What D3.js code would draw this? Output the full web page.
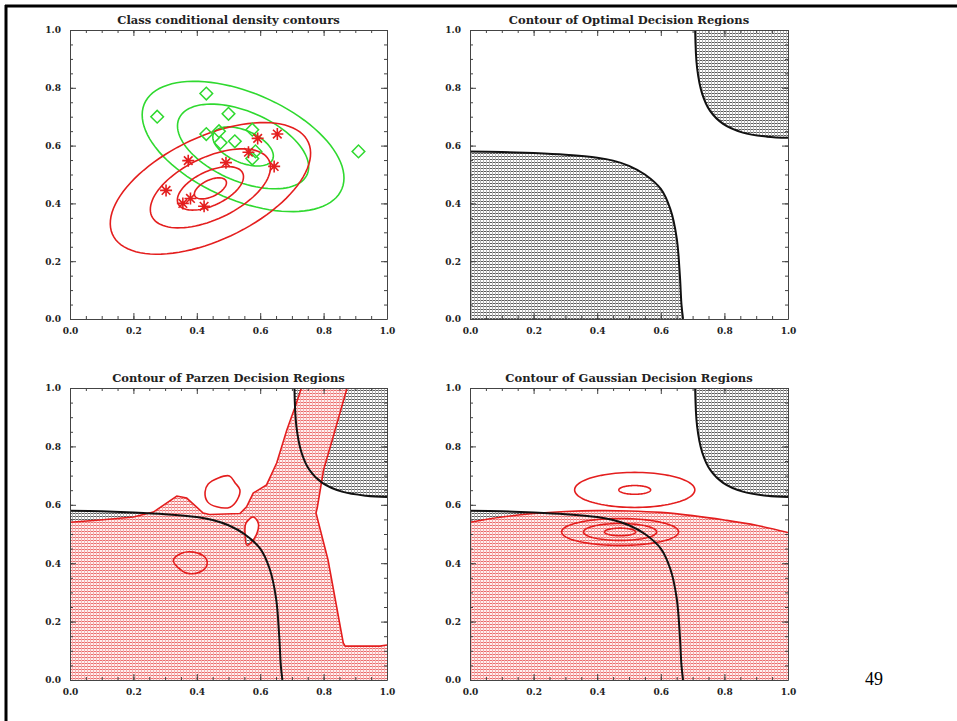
<!DOCTYPE html>
<html>
<head>
<meta charset="utf-8">
<script src="https://cdn.jsdelivr.net/npm/d3@7"></script>
<style>
  body { margin: 0; background: #fff; }
  svg { display: block; }
  .title { font-family: "DejaVu Serif", serif; font-weight: bold; font-size: 11.5px; fill: #222; }
  .tick text { font-family: "DejaVu Serif", serif; font-weight: bold; font-size: 9px; fill: #222; }
  .axis path, .axis line { stroke: #444; }
</style>
</head>
<body>
<svg id="chart" width="957" height="721"></svg>
<script>
// ---- data ----
const titles = [
  'Class conditional density contours',
  'Contour of Optimal Decision Regions',
  'Contour of Parzen Decision Regions',
  'Contour of Gaussian Decision Regions'
];
const majorTicks = [0, 0.2, 0.4, 0.6, 0.8, 1.0];
const minorTicks = d3.range(0, 21).map(i => i / 20);

// class 2 samples (green diamonds) and class 1 samples (red asterisks)
const greenPoints = [
  [0.275, 0.70], [0.43, 0.78], [0.50, 0.71], [0.43, 0.64], [0.47, 0.65],
  [0.475, 0.61], [0.52, 0.615], [0.575, 0.655], [0.585, 0.58], [0.575, 0.555],
  [0.91, 0.58]
];
const redPoints = [
  [0.303, 0.445], [0.373, 0.548], [0.356, 0.40], [0.38, 0.417], [0.423, 0.39],
  [0.492, 0.541], [0.563, 0.577], [0.592, 0.625], [0.654, 0.64], [0.644, 0.528]
];

// density contours: centre, semi-axes, tilt (deg) and relative ring sizes
const redDensity = { center: [0.443, 0.452], a: 0.348, b: 0.175, angle: 29 };
const redRings = [1, 0.6, 0.33, 0.16];
const greenDensity = { center: [0.546, 0.597], a: 0.345, b: 0.182, angle: -27 };
const greenRings = [1, 0.65, 0.3];

// optimal (Bayes) decision boundary
const optimalLower = [
  [0, 0.58], [0.1, 0.578], [0.2, 0.574], [0.3, 0.568], [0.4, 0.558], [0.45, 0.548],
  [0.5, 0.53], [0.55, 0.50], [0.6, 0.45], [0.63, 0.38], [0.65, 0.28], [0.66, 0.15],
  [0.665, 0.05], [0.67, 0]
];
const optimalUpper = [
  [0.708, 1.0], [0.714, 0.87], [0.73, 0.78], [0.755, 0.72], [0.796, 0.675],
  [0.858, 0.645], [0.934, 0.631], [1.0, 0.627]
];

// Parzen decision boundary
const parzenLeft = [
  [0, 0.54], [0.095, 0.548], [0.2, 0.558], [0.263, 0.575], [0.337, 0.63],
  [0.368, 0.623], [0.42, 0.572], [0.44, 0.567], [0.536, 0.57], [0.557, 0.593],
  [0.578, 0.64], [0.62, 0.668], [0.652, 0.743], [0.684, 0.856], [0.71, 0.935], [0.73, 1.0]
];
const parzenRight = [
  [0.874, 1.0], [0.83, 0.832], [0.80, 0.72], [0.78, 0.59], [0.776, 0.572],
  [0.814, 0.411], [0.862, 0.127], [0.868, 0.116], [0.978, 0.116], [1.0, 0.12]
];
const parzenHole = [
  [0.578, 0.558], [0.594, 0.537], [0.59, 0.503], [0.57, 0.469], [0.558, 0.462],
  [0.552, 0.503], [0.555, 0.537]
];
const parzenLoopUpper = [
  [0.426, 0.644], [0.436, 0.671], [0.468, 0.692], [0.503, 0.699], [0.521, 0.675],
  [0.536, 0.651], [0.527, 0.616], [0.505, 0.592], [0.463, 0.593], [0.434, 0.61]
];
const parzenLoopLower = [
  [0.326, 0.41], [0.352, 0.434], [0.39, 0.438], [0.426, 0.42], [0.432, 0.394],
  [0.41, 0.37], [0.368, 0.366], [0.342, 0.384]
];

// Gaussian decision boundary and its discriminant contours
const gaussBoundary = [
  [0, 0.54], [0.1, 0.558], [0.2, 0.57], [0.3, 0.577], [0.4, 0.58], [0.5, 0.579],
  [0.6, 0.574], [0.7, 0.563], [0.8, 0.548], [0.9, 0.53], [1.0, 0.505]
];
const gaussUpperCenter = [0.518, 0.651];
const gaussUpperRings = [[0.189, 0.06], [0.05, 0.015]];
const gaussLowerCenter = [0.472, 0.507];
const gaussLowerRings = [[0.184, 0.046], [0.115, 0.029], [0.049, 0.013]];

// ---- layout ----
const panels = [
  { left: 70, right: 387, top: 30, bottom: 319 },
  { left: 470, right: 788, top: 30, bottom: 319 },
  { left: 70, right: 387, top: 388, bottom: 680 },
  { left: 470, right: 788, top: 388, bottom: 680 }
];

const RED = '#e41e1e', GREEN = '#2fd92f', BLACK = '#111';

const svg = d3.select('#chart');

// hatch patterns
const defs = svg.append('defs');
function hatch(id, bg, hColor, vColor) {
  const p = defs.append('pattern')
    .attr('id', id).attr('patternUnits', 'userSpaceOnUse')
    .attr('width', 3).attr('height', 3);
  p.append('rect').attr('width', 3).attr('height', 3).attr('fill', bg);
  p.append('rect').attr('width', 3).attr('height', 1).attr('fill', hColor);
  p.append('rect').attr('width', 1).attr('height', 3).attr('fill', vColor);
}
hatch('grayHatch', '#fff', '#5a5a5a', '#b4b4b4');
hatch('redHatch', '#fff0f0', '#ea6c6c', '#f5b0b0');

// slide frame
svg.append('line').attr('x1', 6).attr('x2', 6).attr('y1', 5).attr('y2', 721)
  .attr('stroke', '#000').attr('stroke-width', 3);
svg.append('line').attr('x1', 5).attr('x2', 957).attr('y1', 6).attr('y2', 6)
  .attr('stroke', '#000').attr('stroke-width', 3);

svg.append('text')
  .attr('x', 865).attr('y', 685)
  .style('font-family', '"Liberation Serif", serif')
  .style('font-size', '18px')
  .text('49');

function ellipsePoints(c, a, b, angleDeg) {
  const th = angleDeg * Math.PI / 180;
  return d3.range(96).map(k => {
    const t = k / 96 * 2 * Math.PI;
    const ex = a * Math.cos(t), ey = b * Math.sin(t);
    return [c[0] + ex * Math.cos(th) - ey * Math.sin(th),
            c[1] + ex * Math.sin(th) + ey * Math.cos(th)];
  });
}

function makePanel(i) {
  const p = panels[i];
  const x = d3.scaleLinear().domain([0, 1]).range([p.left, p.right]);
  const y = d3.scaleLinear().domain([0, 1]).range([p.bottom, p.top]);
  const g = svg.append('g');

  g.append('clipPath').attr('id', 'clip' + i)
    .append('rect')
    .attr('x', p.left).attr('y', p.top)
    .attr('width', p.right - p.left).attr('height', p.bottom - p.top);

  const plot = g.append('g').attr('clip-path', `url(#clip${i})`);

  const line = d3.line().x(d => x(d[0])).y(d => y(d[1]));
  const smooth = d3.line().x(d => x(d[0])).y(d => y(d[1])).curve(d3.curveCatmullRom);
  const closed = d3.line().x(d => x(d[0])).y(d => y(d[1])).curve(d3.curveLinearClosed);
  const loop = d3.line().x(d => x(d[0])).y(d => y(d[1])).curve(d3.curveCatmullRomClosed);

  return { g, plot, x, y, line, smooth, closed, loop, p };
}

function drawAxes(P, i) {
  const { g, x, y, p } = P;
  const ax = [
    [d3.axisBottom(x), `translate(0,${p.bottom})`, true],
    [d3.axisTop(x), `translate(0,${p.top})`, false],
    [d3.axisLeft(y), `translate(${p.left},0)`, true],
    [d3.axisRight(y), `translate(${p.right},0)`, false]
  ];
  ax.forEach(([axis, tr, labels]) => {
    // minor ticks
    g.append('g').attr('class', 'axis').attr('transform', tr)
      .call(axis.tickValues(minorTicks).tickSizeInner(-3).tickSizeOuter(0).tickFormat(''))
      .call(s => s.selectAll('text').remove());
    // major ticks + labels
    g.append('g').attr('class', 'axis').attr('transform', tr)
      .call(axis.tickValues(majorTicks).tickSizeInner(-6).tickSizeOuter(0)
        .tickPadding(labels ? 9 : 0).tickFormat(labels ? d3.format('.1f') : ''))
      .call(s => s.select('.domain').remove());
  });

  g.append('text').attr('class', 'title')
    .attr('x', (p.left + p.right) / 2).attr('y', p.top - 6)
    .attr('text-anchor', 'middle')
    .text(titles[i]);
}

// region below/left of a boundary, closed through the given plot corners
function regionPath(P, boundary, corners) {
  const { x, y, smooth } = P;
  return smooth(boundary) + corners.map(c => `L${x(c[0])},${y(c[1])}`).join('') + 'Z';
}

function drawOptimal(P) {
  const { plot } = P;
  plot.append('path').attr('d', regionPath(P, optimalLower, [[0, 0]]))
    .attr('fill', 'url(#grayHatch)');
  plot.append('path').attr('d', regionPath(P, optimalUpper, [[1, 1]]))
    .attr('fill', 'url(#grayHatch)');
}
function drawOptimalLines(P) {
  const { plot, smooth } = P;
  [optimalLower, optimalUpper].forEach(c =>
    plot.append('path').attr('d', smooth(c))
      .attr('fill', 'none').attr('stroke', BLACK).attr('stroke-width', 2));
}

// ---- panel 1 ----
{
  const P = makePanel(0);
  const { plot, x, y, closed } = P;
  greenRings.forEach(s => {
    plot.append('path')
      .attr('d', closed(ellipsePoints(greenDensity.center, greenDensity.a * s, greenDensity.b * s, greenDensity.angle)))
      .attr('fill', 'none').attr('stroke', GREEN).attr('stroke-width', 1.6);
  });
  redRings.forEach(s => {
    plot.append('path')
      .attr('d', closed(ellipsePoints(redDensity.center, redDensity.a * s, redDensity.b * s, redDensity.angle)))
      .attr('fill', 'none').attr('stroke', RED).attr('stroke-width', 1.6);
  });
  plot.selectAll('.diamond').data(greenPoints).join('path')
    .attr('class', 'diamond')
    .attr('transform', d => `translate(${x(d[0])},${y(d[1])}) rotate(45)`)
    .attr('d', d3.symbol(d3.symbolSquare, 80))
    .attr('fill', 'none').attr('stroke', GREEN).attr('stroke-width', 1.5);
  const r = 6, q = 4.3;
  plot.selectAll('.star').data(redPoints).join('path')
    .attr('class', 'star')
    .attr('transform', d => `translate(${x(d[0])},${y(d[1])})`)
    .attr('d', `M${-r},0L${r},0M0,${-r}L0,${r}M${-q},${-q}L${q},${q}M${-q},${q}L${q},${-q}`)
    .attr('fill', 'none').attr('stroke', RED).attr('stroke-width', 1.6);
  drawAxes(P, 0);
}

// ---- panel 2 ----
{
  const P = makePanel(1);
  drawOptimal(P);
  drawOptimalLines(P);
  drawAxes(P, 1);
}

// ---- panel 3 ----
{
  const P = makePanel(2);
  const { plot, line, closed, loop } = P;
  drawOptimal(P);
  const region = closed(parzenLeft.concat(parzenRight, [[1, 0], [0, 0]])) + loop(parzenHole);
  plot.append('path').attr('d', region)
    .attr('fill', 'url(#redHatch)').attr('fill-rule', 'evenodd');
  [parzenLeft, parzenRight].forEach(c =>
    plot.append('path').attr('d', line(c))
      .attr('fill', 'none').attr('stroke', RED).attr('stroke-width', 1.6));
  [parzenHole, parzenLoopUpper, parzenLoopLower].forEach(c =>
    plot.append('path').attr('d', loop(c))
      .attr('fill', 'none').attr('stroke', RED).attr('stroke-width', 1.6));
  drawOptimalLines(P);
  drawAxes(P, 2);
}

// ---- panel 4 ----
{
  const P = makePanel(3);
  const { plot, smooth, closed } = P;
  drawOptimal(P);
  plot.append('path').attr('d', regionPath(P, gaussBoundary, [[1, 0], [0, 0]]))
    .attr('fill', 'url(#redHatch)');
  plot.append('path').attr('d', smooth(gaussBoundary))
    .attr('fill', 'none').attr('stroke', RED).attr('stroke-width', 1.6);
  gaussUpperRings.forEach(([a, b]) =>
    plot.append('path').attr('d', closed(ellipsePoints(gaussUpperCenter, a, b, 0)))
      .attr('fill', 'none').attr('stroke', RED).attr('stroke-width', 1.6));
  gaussLowerRings.forEach(([a, b]) =>
    plot.append('path').attr('d', closed(ellipsePoints(gaussLowerCenter, a, b, 0)))
      .attr('fill', 'none').attr('stroke', RED).attr('stroke-width', 1.6));
  drawOptimalLines(P);
  drawAxes(P, 3);
}
</script>
</body>
</html>
